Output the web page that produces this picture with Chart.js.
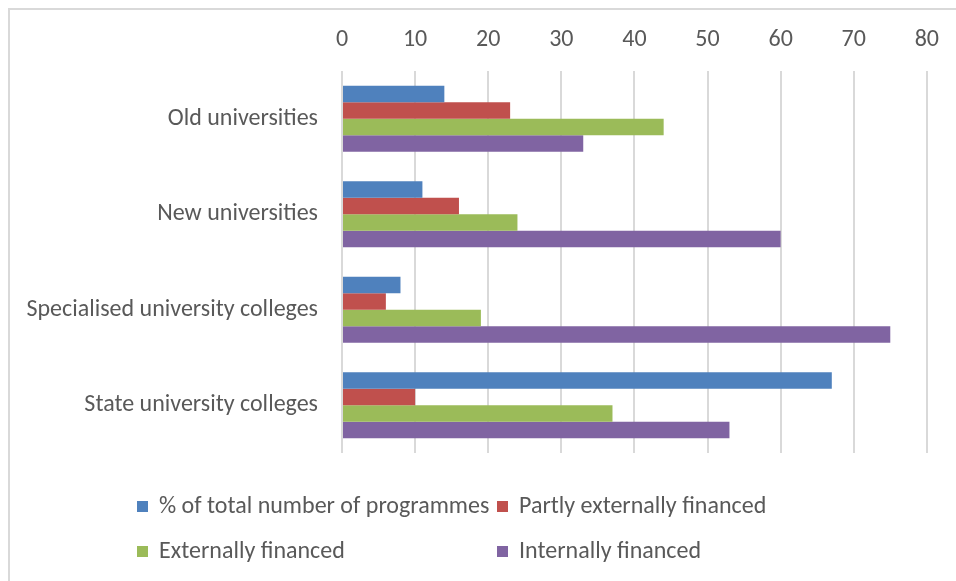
<!DOCTYPE html>
<html>
<head>
<meta charset="utf-8">
<script src="https://cdn.jsdelivr.net/npm/chart.js@4.4.0/dist/chart.umd.min.js"></script>
<style>
  html, body { margin: 0; padding: 0; background: #fff; }
  #wrap { width: 956px; height: 581px; position: relative; }
</style>
</head>
<body>
<div id="wrap"><canvas id="c" width="956" height="581"></canvas></div>
<script>
const categories = ["Old universities", "New universities", "Specialised university colleges", "State university colleges"];
const seriesNames = ["% of total number of programmes", "Partly externally financed", "Externally financed", "Internally financed"];
const totalProgrammes = [14, 11, 8, 67];
const partlyExternal = [23, 16, 6, 10];
const externalFin = [44, 24, 19, 37];
const internalFin = [33, 60, 75, 53];
const xTicks = [0, 10, 20, 30, 40, 50, 60, 70, 80];

const colors = ["#4f81bd", "#c0504d", "#9bbb59", "#8064a2"];
const FONT = "Carlito, Lato, 'Liberation Sans', sans-serif";
const FSIZE = 24;

const borderPlugin = {
  id: 'frame',
  beforeDraw(chart) {
    const ctx = chart.ctx;
    ctx.save();
    ctx.fillStyle = '#ffffff';
    ctx.fillRect(0, 0, chart.width, chart.height);
    ctx.strokeStyle = '#d9d9d9';
    ctx.lineWidth = 2;
    ctx.beginPath();
    ctx.moveTo(9, chart.height);
    ctx.lineTo(9, 9);
    ctx.lineTo(chart.width, 9);
    ctx.stroke();
    ctx.restore();
  }
};

const gridLegend = {
  id: 'gridLegend',
  afterDraw(chart) {
    const ctx = chart.ctx;
    ctx.save();
    ctx.font = FSIZE + "px " + FONT;
    ctx.textBaseline = 'middle';
    const colX = [137, 497];
    const rowY = [506, 551];
    chart.data.datasets.forEach((ds, i) => {
      const x = colX[i % 2], y = rowY[Math.floor(i / 2)];
      ctx.fillStyle = ds.backgroundColor;
      ctx.fillRect(x, y - 5, 11, 11);
      ctx.fillStyle = '#595959';
      ctx.fillText(ds.label, x + 22, y + 1);
    });
    ctx.restore();
  }
};

const seriesData = [totalProgrammes, partlyExternal, externalFin, internalFin];

new Chart(document.getElementById('c'), {
  type: 'bar',
  data: {
    labels: categories,
    datasets: seriesNames.map((n, i) => ({
      label: n,
      data: seriesData[i],
      backgroundColor: colors[i],
      borderWidth: 0,
      categoryPercentage: 0.69,
      barPercentage: 1.0
    }))
  },
  options: {
    indexAxis: 'y',
    responsive: false,
    animation: false,
    devicePixelRatio: 1,
    layout: { padding: { left: 0, top: 0, right: 28, bottom: 128 } },
    plugins: { legend: { display: false }, tooltip: { enabled: false } },
    scales: {
      x: {
        position: 'top',
        min: 0, max: 80,
        afterBuildTicks(scale) { scale.ticks = xTicks.map(v => ({ value: v })); },
        afterFit(scale) { scale.height = 71; },
        grid: { color: '#d9d9d9', lineWidth: 2, drawTicks: false },
        border: { display: false },
        ticks: { color: '#595959', font: { family: FONT, size: FSIZE }, padding: 17 }
      },
      y: {
        afterFit(scale) { scale.width = 342; },
        grid: { display: false, drawTicks: false },
        border: { display: false },
        ticks: { color: '#595959', font: { family: FONT, size: FSIZE }, padding: 24 }
      }
    }
  },
  plugins: [borderPlugin, gridLegend]
});
</script>
</body>
</html>
